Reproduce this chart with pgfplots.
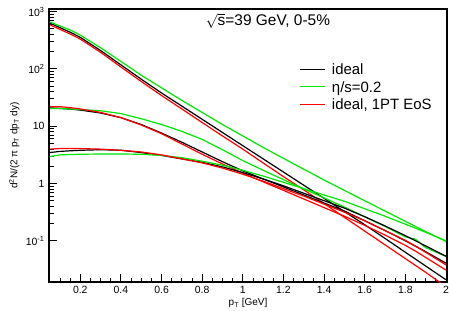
\documentclass[border=0pt]{standalone}
\usepackage{fontspec}
\setmainfont{Liberation Sans}
\usepackage{pgfplots}
\usepackage{pgfplotstable}
\pgfplotsset{compat=1.18}
\definecolor{rgreen}{RGB}{0,230,0}
\definecolor{rred}{RGB}{255,0,0}

\pgfplotstableread{
x    pb     pg     pr     kb     kg     kr     ppb    ppg    ppr
0.05 631    661    589    20.9   20.4   21.9   3.47   2.95   3.98
0.1  525    562    490    20.4   20.4   21.9   3.63   3.16   4.07
0.15 437    479    407    19.9   20.0   21.1   3.72   3.20   4.10
0.2  355    389    331    19.1   19.5   20.0   3.80   3.24   4.07
0.3  209    234    195    17.0   18.6   17.4   3.89   3.27   3.98
0.4  117.5  135    108    14.1   16.6   14.1   3.80   3.27   3.80
0.5  66.1   77.6   60.3   10.7   13.5   10.5   3.47   3.24   3.55
0.6  38.0   46.8   34.3   7.59   10.7   7.41   3.09   3.09   3.16
0.7  22.4   28.2   20.0   5.25   8.13   4.90   2.69   2.82   2.69
0.8  13.2   17.4   11.6   3.55   5.89   3.24   2.34   2.45   2.29
0.9  7.76   10.7   6.76   2.40   3.89   2.19   1.95   2.09   1.86
1.0  4.57   6.76   3.98   1.66   2.51   1.51   1.55   1.70   1.45
1.1  2.69   4.27   2.29   1.20   1.70   1.07   1.20   1.35   1.10
1.2  1.585  2.75   1.32   0.871  1.17   0.759  0.912  1.05   0.813
1.3  0.933  1.78   0.776  0.631  0.804  0.537  0.676  0.813  0.603
1.4  0.550  1.15   0.447  0.457  0.562  0.380  0.501  0.631  0.437
1.5  0.324  0.759  0.257  0.331  0.389  0.269  0.372  0.490  0.316
1.6  0.191  0.501  0.148  0.224  0.263  0.186  0.263  0.363  0.224
1.7  0.110  0.331  0.0851 0.151  0.178  0.126  0.182  0.269  0.151
1.8  0.0631 0.219  0.0490 0.100  0.117  0.0832 0.123  0.195  0.102
1.85 0.0479 0.178  0.0372 0.0805 0.107  0.0661 0.100  0.166  0.0803
1.9  0.0363 0.145  0.0282 0.0646 0.0760 0.0513 0.0813 0.141  0.0631
2.0  0.0209 0.0977 0.0158 0.0407 0.0537 0.0309 0.0537 0.100  0.0380
}\spectra

\begin{document}
\begin{tikzpicture}
\begin{axis}[
  at={(0,0)}, anchor=south west,
  scale only axis,
  width=398bp, height=273bp,
  ymode=log,
  xmin=0.046, xmax=2.005,
  ymin=0.0191, ymax=1110,
  axis line style={line width=1.1bp},
  tick style={line width=0.9bp, black},
  major tick length=8bp, minor tick length=4.5bp,
  xtick pos=bottom, ytick pos=left,
  tick align=inside,
  xtick={0.2,0.4,0.6,0.8,1,1.2,1.4,1.6,1.8,2},
  xticklabels={0.2,0.4,0.6,0.8,1,1.2,1.4,1.6,1.8,2},
  minor xtick={0.05,0.1,0.15,0.25,0.3,0.35,0.45,0.5,0.55,0.65,0.7,0.75,0.85,0.9,0.95,1.05,1.1,1.15,1.25,1.3,1.35,1.45,1.5,1.55,1.65,1.7,1.75,1.85,1.9,1.95},
  ytick={0.1,1,10,100,1000},
  yticklabels={10\textsuperscript{-1},1,10,10\textsuperscript{2},10\textsuperscript{3}},
  /pgf/number format/assume math mode=true,
  ticklabel style={font=\fontsize{10.5}{12}\selectfont},
  xticklabel style={yshift=-1bp},
  yticklabel style={xshift=-1bp},
  xlabel={p\textsubscript{T} [GeV]},
  ylabel={d\textsuperscript{2}N/(2 π p\textsubscript{T} dp\textsubscript{T} dy)},
  label style={font=\fontsize{10}{12}\selectfont},
  xlabel style={at={(axis description cs:0.5,0)}, anchor=north, yshift=-13bp},
  ylabel style={at={(axis description cs:0,0.5)}, anchor=south, xshift=0bp, yshift=26bp},
  legend style={at={(axis description cs:0.63,0.81)}, anchor=north west, draw=none, fill=none,
    font=\fontsize{15}{17}\selectfont, row sep=0bp, inner sep=0pt,
    nodes={inner sep=0pt, text depth=4bp, text height=13.5bp},
    /tikz/every even column/.append style={column sep=0bp}},
  legend cell align=left,
  every axis plot/.append style={line width=1.2bp, line join=round},
  clip=true,
]
\addlegendimage{empty legend}
\addlegendentry{\textcolor{black}{\rule[4.6bp]{25bp}{1.2bp}}\hspace{7bp}ideal}
\addlegendimage{empty legend}
\addlegendentry{\textcolor{rgreen}{\rule[4.6bp]{25bp}{1.2bp}}\hspace{7bp}η/s=0.2}
\addlegendimage{empty legend}
\addlegendentry{\textcolor{rred}{\rule[4.6bp]{25bp}{1.2bp}}\hspace{7bp}ideal, 1PT EoS}
\addplot[black, forget plot] table[x=x,y=pb] {\spectra};
\addplot[rgreen, forget plot] table[x=x,y=pg] {\spectra};
\addplot[rred, forget plot] table[x=x,y=pr] {\spectra};
\addplot[black, forget plot] table[x=x,y=kb] {\spectra};
\addplot[rgreen, forget plot] table[x=x,y=kg] {\spectra};
\addplot[rred, forget plot] table[x=x,y=kr] {\spectra};
\addplot[black, forget plot] table[x=x,y=ppb] {\spectra};
\addplot[rgreen, forget plot] table[x=x,y=ppg] {\spectra};
\addplot[rred, forget plot] table[x=x,y=ppr] {\spectra};
\node[font=\fontsize{15.5}{17}\selectfont, anchor=center] at (axis description cs:0.55,0.958) {\(\sqrt{\mbox{s}}\)=39 GeV, 0-5\%};
\end{axis}
\pgfresetboundingbox
\path (-49bp,-29bp) rectangle (400bp,282bp);
\end{tikzpicture}
\end{document}
